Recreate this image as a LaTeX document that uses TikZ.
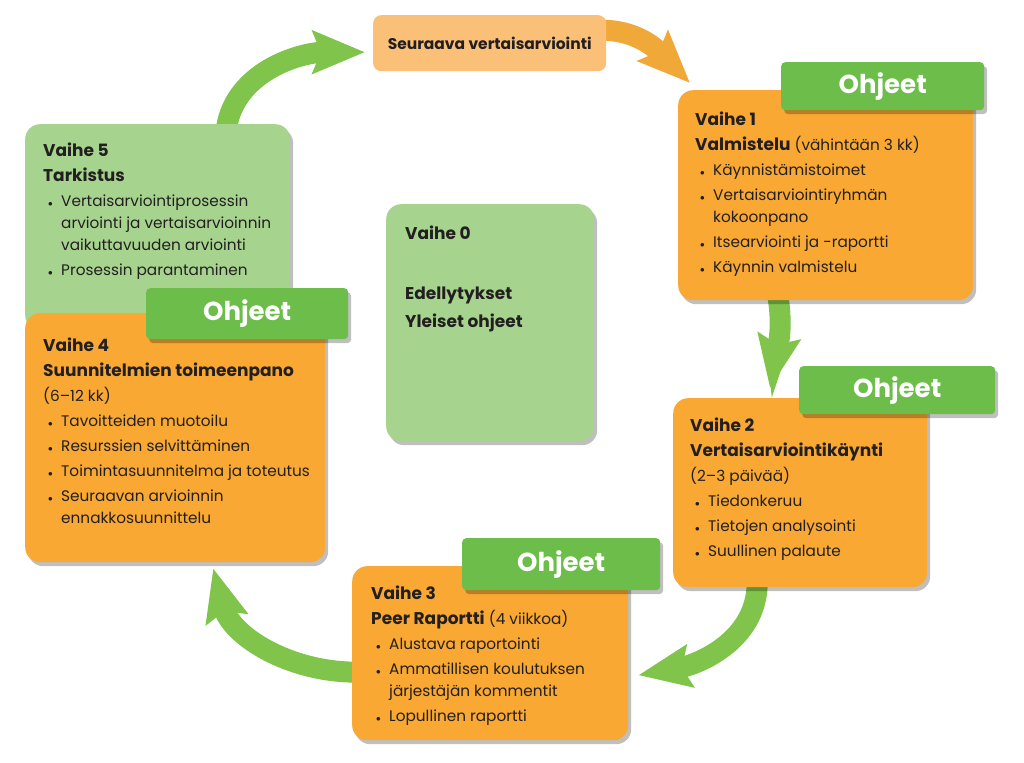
\documentclass[tikz,border=0pt]{standalone}
\usepackage{fontspec}
\setmainfont{Poppins}
\usetikzlibrary{positioning,arrows.meta,shadows,backgrounds}

\definecolor{oranssi}{HTML}{F8A833}
\definecolor{vaaleaoranssi}{HTML}{FBC078}
\definecolor{vaaleavihrea}{HTML}{A6D48E}
\definecolor{kielekevihrea}{HTML}{6CBD4A}
\definecolor{nuolivihrea}{HTML}{80C44C}
\definecolor{nuolioranssi}{HTML}{F0A838}
\definecolor{tumma}{HTML}{231F20}

\newcommand{\otsikko}{\fontsize{17}{25}\selectfont\bfseries}
\newcommand{\pallo}{\hspace*{5pt}\makebox[13pt][l]{\fontsize{9}{9}\selectfont$\bullet$}}
\newcommand{\jatko}{\hspace*{18pt}}

\tikzset{
  varjo/.style={drop shadow={shadow xshift=3pt,shadow yshift=-4pt,opacity=0.25,fill=black}},
  laatikko/.style={fill=oranssi,rounded corners=15pt,anchor=north west,inner sep=0pt,varjo},
  vihrea/.style={laatikko,fill=vaaleavihrea},
  ylalaatikko/.style={fill=vaaleaoranssi,rounded corners=8pt,anchor=north west,
    minimum width=233pt,minimum height=56pt,text=tumma,
    font=\bfseries\fontsize{15.5}{18}\selectfont},
  kieleke/.style={fill=kielekevihrea,rounded corners=4pt,anchor=north east,
    text=white,font=\bfseries\fontsize{26}{26}\selectfont,varjo},
  teksti/.style={anchor=north west,inner sep=0pt,align=left,text=tumma,
    font=\fontsize{15.3}{25}\selectfont},
  nuoli/.style={draw=nuolivihrea,line width=21pt,
    -{Stealth[length=52pt,width=42pt,inset=8pt]}}
}

\begin{document}
\begin{tikzpicture}[x=1pt,y=1pt]
  \useasboundingbox (0,0) rectangle (1024,762);

  % ylin laatikko
  \node[ylalaatikko] (seur) at (373,747) {Seuraava vertaisarviointi};

  % vaihe 5 ja vaihe 4
  \node[vihrea,minimum width=265pt,minimum height=206pt] (v5) at (25,638) {};
  \node[teksti] (t5) at ([xshift=18pt,yshift=-19pt]v5.north west)
    {{\otsikko Vaihe 5}\\
     {\otsikko Tarkistus}\\
     \pallo Vertaisarviointiprosessin\\[-3pt]
     \jatko arviointi ja vertaisarvioinnin\\[-3pt]
     \jatko vaikuttavuuden arviointi\\
     \pallo Prosessin parantaminen};
  \node[laatikko,minimum width=300pt,minimum height=249pt] (v4) at (25,449) {};
  \node[teksti] (t4) at ([xshift=18pt,yshift=-25pt]v4.north west)
    {{\otsikko Vaihe 4}\\
     {\otsikko Suunnitelmien toimeenpano}\\
     (6–12 kk)\\
     \pallo Tavoitteiden muotoilu\\
     \pallo Resurssien selvittäminen\\
     \pallo Toimintasuunnitelma ja toteutus\\
     \pallo Seuraavan arvioinnin\\[-3pt]
     \jatko ennakkosuunnittelu};
  \node[kieleke,minimum width=202pt,minimum height=51pt] (o4)
    at ([xshift=23pt,yshift=25pt]v4.north east) {Ohjeet};

  % vaihe 0
  \node[vihrea,minimum width=208pt,minimum height=237pt] (v0) at (386,558) {};
  \node[teksti] (t0) at ([xshift=19pt,yshift=-22pt]v0.north west)
    {{\otsikko Vaihe 0}\\[35pt]
     {\otsikko Edellytykset}\\[3pt]
     {\otsikko Yleiset ohjeet}};

  % vaihe 1
  \node[laatikko,minimum width=295pt,minimum height=210pt] (v1) at (678,672) {};
  \node[teksti] (t1) at ([xshift=17pt,yshift=-22pt]v1.north west)
    {{\otsikko Vaihe 1}\\
     {\otsikko Valmistelu} (vähintään 3 kk)\\
     \pallo Käynnistämistoimet\\
     \pallo Vertaisarviointiryhmän\\[-3pt]
     \jatko kokoonpano\\
     \pallo Itsearviointi ja -raportti\\
     \pallo Käynnin valmistelu};
  \node[kieleke,minimum width=203pt,minimum height=48pt] (o1)
    at ([xshift=11pt,yshift=28pt]v1.north east) {Ohjeet};

  % vaihe 2
  \node[laatikko,minimum width=254pt,minimum height=189pt] (v2) at (673,364) {};
  \node[teksti] (t2) at ([xshift=17pt,yshift=-20pt]v2.north west)
    {{\otsikko Vaihe 2}\\
     {\otsikko Vertaisarviointikäynti}\\
     (2–3 päivää)\\
     \pallo Tiedonkeruu\\
     \pallo Tietojen analysointi\\
     \pallo Suullinen palaute};
  \node[kieleke,minimum width=196pt,minimum height=48pt] (o2)
    at ([xshift=68pt,yshift=32pt]v2.north east) {Ohjeet};

  % vaihe 3
  \node[laatikko,minimum width=276pt,minimum height=174pt] (v3) at (352,196) {};
  \node[teksti] (t3) at ([xshift=19pt,yshift=-20pt]v3.north west)
    {{\otsikko Vaihe 3}\\
     {\otsikko Peer Raportti} (4 viikkoa)\\
     \pallo Alustava raportointi\\
     \pallo Ammatillisen koulutuksen\\[-3pt]
     \jatko järjestäjän kommentit\\
     \pallo Lopullinen raportti};
  \node[kieleke,minimum width=198pt,minimum height=52pt] (o3)
    at ([xshift=32pt,yshift=28pt]v3.north east) {Ohjeet};

  % nuolet laatikoiden alle
  \begin{scope}[on background layer]
    \fill[white] (0,0) rectangle (1024,762);
    \draw[nuoli] ([xshift=68pt,yshift=-10pt]v5.north)
      to[out=85,in=180] ([xshift=-8pt,yshift=-9pt]seur.west);
    \draw[nuoli,draw=nuolioranssi] ([xshift=-5pt,yshift=13pt]seur.east)
      to[out=0,in=135] ([xshift=12pt,yshift=7pt]v1.north west);
    \draw[nuoli] ([xshift=-48pt,yshift=5pt]v1.south)
      to[out=-80,in=80] ([xshift=97pt,yshift=10pt]v2.north west);
    \draw[nuoli] ([xshift=-43pt,yshift=5pt]v2.south)
      to[out=-90,in=10] ([xshift=10pt,yshift=-22pt]v3.east);
    \draw[nuoli] ([xshift=5pt,yshift=-19pt]v3.west)
      to[out=180,in=-75] ([xshift=38pt,yshift=-6pt]v4.south);
  \end{scope}
\end{tikzpicture}
\end{document}
